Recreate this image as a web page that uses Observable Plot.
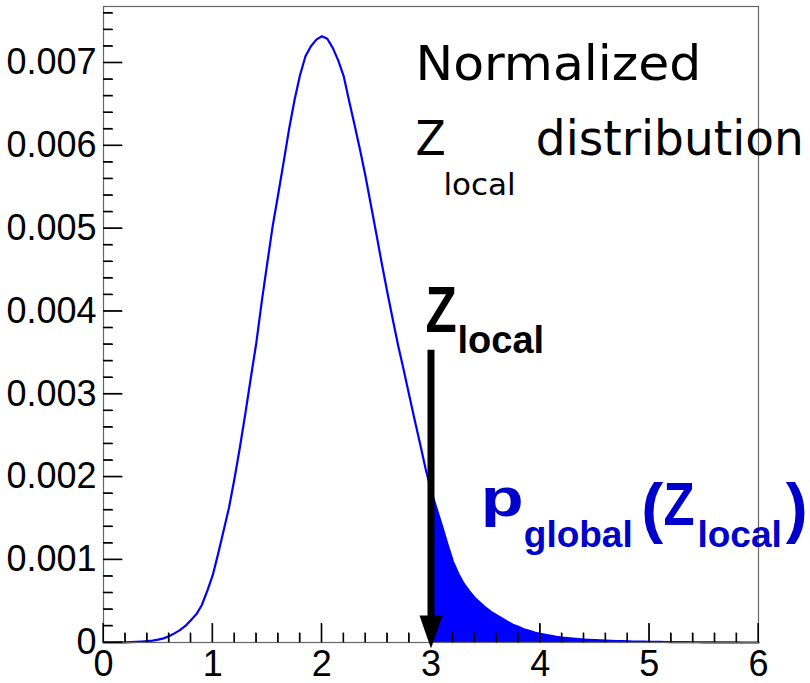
<!DOCTYPE html>
<html><head><meta charset="utf-8">
<script src="https://cdn.jsdelivr.net/npm/d3@7"></script>
<script src="https://cdn.jsdelivr.net/npm/@observablehq/plot@0.6"></script>
<style>body{margin:0;background:#fff} #chart svg{display:block}</style>
</head><body><div id="chart"></div>
<script>
// histogram sampled every 0.05 in Z_local, values in units of 1e-3
const binStep = 0.05;
const density = [
  0,0,0,0.001,0.002,0.004,0.007,0.011,0.016,0.022,
  0.034,0.05,0.075,0.11,0.15,0.20,0.27,0.34,0.45,0.62,
  0.81,1.07,1.35,1.63,1.98,2.36,2.77,3.20,3.62,4.12,
  4.58,5.03,5.41,5.80,6.20,6.55,6.85,7.08,7.20,7.28,
  7.32,7.29,7.18,7.03,6.84,6.54,6.25,5.95,5.63,5.28,
  4.93,4.57,4.23,3.90,3.58,3.29,2.99,2.69,2.40,2.10,
  1.84,1.62,1.41,1.19,0.98,0.83,0.71,0.62,0.54,0.48,
  0.42,0.37,0.33,0.29,0.25,0.215,0.19,0.16,0.14,0.12,
  0.105,0.092,0.080,0.068,0.058,0.052,0.046,0.040,0.035,0.031,
  0.028,0.025,0.023,0.020,0.018,0.016,0.014,0.012,0.011,0.010,
  0.009,0.008,0.007,0.006,0.005,0.005,0.004,0.004,0.003,0.003,
  0.002,0.002,0.002,0.001,0.001,0.001,0.001,0,0,0,
  0
];
const zLocal = 3;
const xTickValues = [0,1,2,3,4,5,6];
const xTickLabels = ["0","1","2","3","4","5","6"];
const yTickValues = [0,0.001,0.002,0.003,0.004,0.005,0.006,0.007];
const yTickLabels = ["0","0.001","0.002","0.003","0.004","0.005","0.006","0.007"];
const titleLine1 = "Normalized";
const titleZ = "Z", titleSub = "local", titleRest = "distribution";
const pText = "p", pSub = "global";

const data = density.map((v, i) => ({x: +(i * binStep).toFixed(2), y: v * 1e-3}));
const tail = data.filter(d => d.x >= zLocal);

const W = 810, H = 683, mL = 103, mR = 52, mT = 6, mB = 41;
const innerW = W - mL - mR, innerH = H - mT - mB;
const xMax = 6, yMax = 0.00768;
const majorLen = 19, minorLen = 9.5, tickW = 1.3;
const pxX = xMax / innerW, pxY = yMax / innerH; // data units per pixel
const xMinor = d3.range(1, 30).map(i => +(i * 0.2).toFixed(1)).filter(v => !xTickValues.includes(v));
const yMinor = d3.range(1, 39).map(i => +(i * 0.0002).toFixed(4)).filter(v => !yTickValues.some(t => Math.abs(t - v) < 1e-9));

const arrowHead = {draw(ctx) { ctx.moveTo(-11.5, -33); ctx.lineTo(11.5, -33); ctx.lineTo(0, 0); ctx.closePath(); }};

const SANS = "Liberation Sans, Arial, sans-serif";
const GOTH = "DejaVu Sans, sans-serif";
const BLUE_T = "#0000cc";
const stretch = {};
let noteId = 0;
function note(str, x, y, o, sx = 1) {
  const id = "note-" + (noteId++);
  stretch[id] = sx;
  return Plot.text([str], {x: () => x, y: () => y, text: d => d, textAnchor: "start", lineAnchor: "bottom", ariaDescription: id, ...o});
}
// inward ticks as thin filled rectangles (x axis) and (y axis)
function xTicks(values, len) {
  return Plot.rect(values, {x1: d => d - tickW / 2 * pxX, x2: d => d + tickW / 2 * pxX, y1: () => 0, y2: () => len * pxY, fill: "black", inset: 0});
}
function yTicks(values, len) {
  return Plot.rect(values, {y1: d => d - tickW / 2 * pxY, y2: d => d + tickW / 2 * pxY, x1: () => 0, x2: () => len * pxX, fill: "black", inset: 0});
}

const chart = Plot.plot({
  width: W, height: H,
  marginLeft: mL, marginRight: mR, marginTop: mT, marginBottom: mB,
  style: {fontFamily: SANS, background: "white", color: "black", overflow: "visible"},
  x: {domain: [0, xMax], label: null},
  y: {domain: [0, yMax], label: null},
  marks: [
    Plot.areaY(tail, {x: "x", y: "y", fill: "#0000ff", curve: "linear"}),
    Plot.line(data, {x: "x", y: "y", stroke: "#0000ff", strokeWidth: 2.2}),
    Plot.frame({stroke: "#666", strokeWidth: 1.2}),
    xTicks(xTickValues, majorLen),
    xTicks(xMinor, minorLen),
    yTicks(yTickValues, majorLen),
    yTicks(yMinor, minorLen),
    Plot.link(xTickValues, {x1: d => d, x2: d => d, y1: () => 0, y2: () => majorLen * pxY, stroke: "black", strokeWidth: 1}),
    Plot.link(xMinor, {x1: d => d, x2: d => d, y1: () => 0, y2: () => minorLen * pxY, stroke: "black", strokeWidth: 1}),
    Plot.link(yTickValues, {y1: d => d, y2: d => d, x1: () => 0, x2: () => majorLen * pxX, stroke: "black", strokeWidth: 1}),
    Plot.link(yMinor, {y1: d => d, y2: d => d, x1: () => 0, x2: () => minorLen * pxX, stroke: "black", strokeWidth: 1}),
    Plot.axisX(xTickValues, {tickSize: 0, tickPadding: 8, fontSize: 36, fontFamily: SANS, label: null,
      tickFormat: d => xTickLabels[xTickValues.indexOf(d)]}),
    Plot.axisY(yTickValues, {tickSize: 0, tickPadding: 7, fontSize: 36, fontFamily: SANS, label: null,
      tickFormat: d => yTickLabels[yTickValues.indexOf(d)]}),
    // arrow at Z_local
    Plot.ruleX([zLocal], {x: d => d, y1: 0.003528, y2: 0.0003, stroke: "black", strokeWidth: 7}),
    Plot.dot([zLocal], {x: d => d, y: 0, symbol: arrowHead, fill: "black", stroke: "none", dy: 6}),
    // title annotation
    note(titleLine1, 2.858, 0.006791, {fontFamily: GOTH, fontSize: 48, fill: "black"}, 1.05),
    note(titleZ, 2.858, 0.005884, {fontFamily: GOTH, fontSize: 48, fill: "black"}, 0.92),
    note(titleSub, 3.114, 0.005401, {fontFamily: GOTH, fontSize: 31, fill: "black"}),
    note(titleRest, 3.960, 0.005884, {fontFamily: GOTH, fontSize: 48, fill: "black"}, 0.98),
    // Z_local label at arrow
    note("Z", 2.950, 0.003746, {fontFamily: SANS, fontWeight: "bold", fontSize: 64, fill: "black"}, 0.8),
    note("local", 3.243, 0.003492, {fontFamily: SANS, fontWeight: "bold", fontSize: 38, fill: "black"}),
    // p_global(Z_local)
    note(pText, 3.455, 0.001522, {fontFamily: SANS, fontWeight: "bold", fontSize: 52, fill: BLUE_T}, 1.35),
    note(pSub, 3.850, 0.001148, {fontFamily: SANS, fontWeight: "bold", fontSize: 37, fill: BLUE_T}),
    note("(", 4.925, 0.001353, {fontFamily: SANS, fontWeight: "bold", fontSize: 66, fill: BLUE_T}),
    note("Z", 5.130, 0.001414, {fontFamily: SANS, fontWeight: "bold", fontSize: 62, fill: BLUE_T}, 0.82),
    note("local", 5.441, 0.001148, {fontFamily: SANS, fontWeight: "bold", fontSize: 37, fill: BLUE_T}),
    note(")", 6.250, 0.001353, {fontFamily: SANS, fontWeight: "bold", fontSize: 66, fill: BLUE_T})
  ]
});
// horizontal stretch of annotation glyphs to mimic the reference typeface widths
for (const [id, sx] of Object.entries(stretch)) {
  if (sx === 1) continue;
  chart.querySelectorAll(`g[aria-description="${id}"] text`).forEach(t => {
    const tr = t.getAttribute("transform") || "";
    t.setAttribute("transform", `${tr} scale(${sx},1)`);
  });
}
document.getElementById("chart").appendChild(chart);
</script>
</body></html>
